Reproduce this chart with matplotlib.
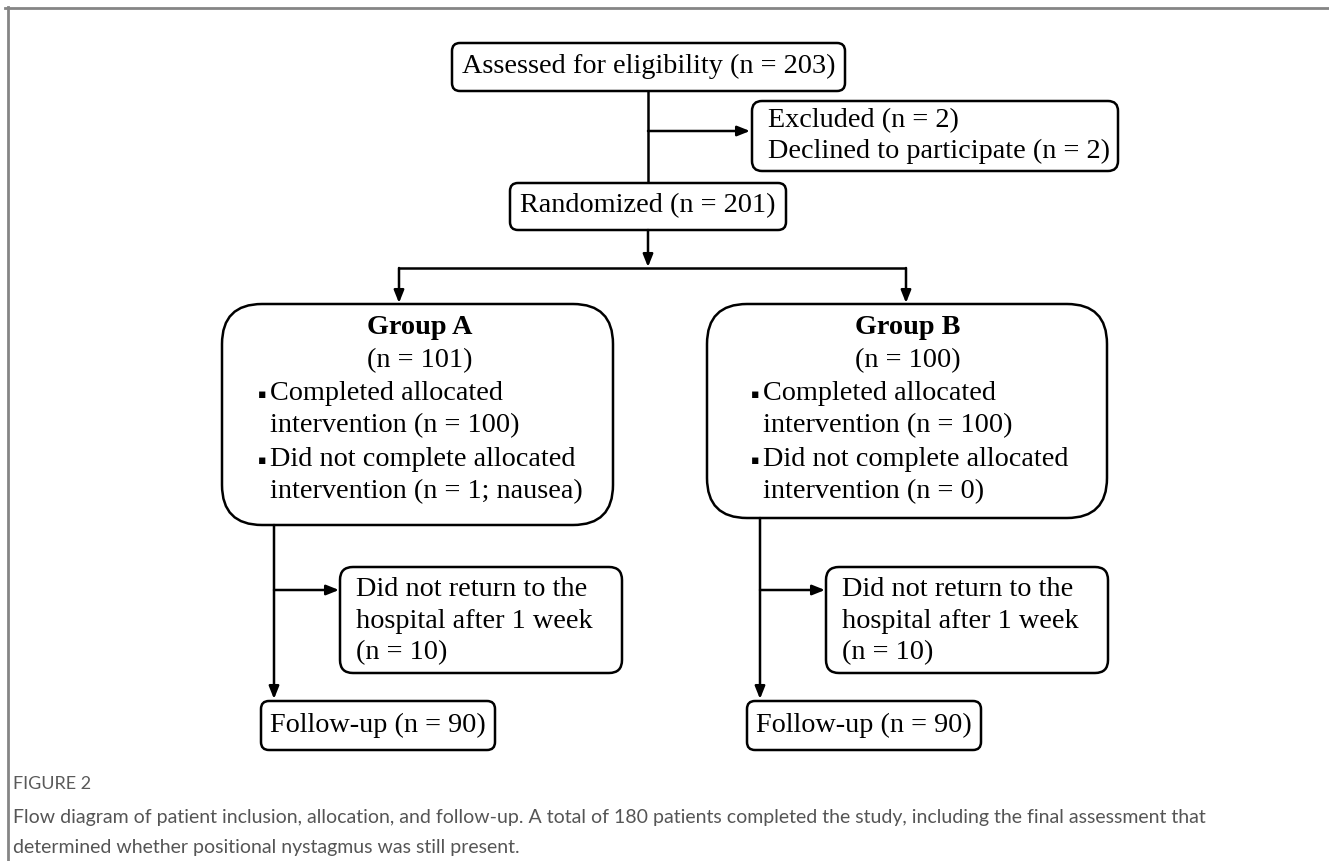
import matplotlib
matplotlib.use("Agg")
import matplotlib.pyplot as plt
from matplotlib.patches import FancyBboxPatch
from matplotlib.lines import Line2D

# ---- data (texts of the flow diagram) ----
assessed_text = "Assessed for eligibility (n = 203)"
excluded_lines = ["Excluded (n = 2)", "Declined to participate (n = 2)"]
randomized_text = "Randomized (n = 201)"
group_titles = ["Group A", "Group B"]
group_n = ["(n = 101)", "(n = 100)"]
group_items = [
    ["Completed allocated", "intervention (n = 100)",
     "Did not complete allocated", "intervention (n = 1; nausea)"],
    ["Completed allocated", "intervention (n = 100)",
     "Did not complete allocated", "intervention (n = 0)"],
]
group_bullets = [True, False, True, False]
lost_lines = [["Did not return to the", "hospital after 1 week", "(n = 10)"],
              ["Did not return to the", "hospital after 1 week", "(n = 10)"]]
followup_text = ["Follow-up (n = 90)", "Follow-up (n = 90)"]
fig_label = "FIGURE 2"
caption_lines = [
    "Flow diagram of patient inclusion, allocation, and follow-up. A total of 180 patients completed the study, including the final assessment that",
    "determined whether positional nystagmus was still present.",
]

W, H = 1329, 861
fig = plt.figure(figsize=(W / 100, H / 100), dpi=100)
ax = fig.add_axes([0, 0, 1, 1])
ax.set_xlim(0, W)
ax.set_ylim(H, 0)
ax.axis("off")

SERIF = ["Liberation Serif", "DejaVu Serif"]
FS = 20.3
LW = 1.8


def box(x0, y0, x1, y1, r):
    p = FancyBboxPatch((x0, y0), x1 - x0, y1 - y0,
                       boxstyle=f"round,pad=0,rounding_size={r}",
                       fc="white", ec="black", lw=LW, zorder=2)
    ax.add_patch(p)


def line(xs, ys):
    ax.add_line(Line2D(xs, ys, color="black", lw=LW, zorder=1,
                       solid_capstyle="butt"))


def arrow(x0, y0, x1, y1):
    ax.annotate("", xy=(x1, y1), xytext=(x0, y0),
                arrowprops=dict(arrowstyle="-|>,head_length=0.75,head_width=0.3",
                                color="black", lw=LW, shrinkA=0, shrinkB=0),
                zorder=3)


def txt(x, y, s, ha="left", weight="normal"):
    ax.text(x, y, s, ha=ha, va="center", fontsize=FS, family=SERIF,
            weight=weight, zorder=4)


# border lines (top and left)
ax.add_line(Line2D([5, W], [7.5, 7.5], color="#858585", lw=2.0))
ax.add_line(Line2D([7.5, 7.5], [7, H], color="#858585", lw=2.0))

# Assessed
box(452, 43, 845, 91, 8)
txt(648.5, 66, assessed_text, ha="center")
line([648, 648], [91, 183])
arrow(648, 131, 750, 131)
box(752, 101, 1118, 171, 10)
txt(768, 121, excluded_lines[0])
txt(768, 151, excluded_lines[1])

# Randomized
box(510, 183, 786, 230, 8)
txt(648, 206, randomized_text, ha="center")
arrow(648, 230, 648, 267)
line([399, 906], [268, 268])
arrow(399, 268, 399, 303)
arrow(906, 268, 906, 303)

# Groups
gboxes = [(222, 304, 613, 525), (707, 304, 1107, 518)]
gcenters = [420, 908]
gleft = [270, 763]
for i in range(2):
    x0, y0, x1, y1 = gboxes[i]
    box(x0, y0, x1, y1, 40)
    txt(gcenters[i], 327, group_titles[i], ha="center", weight="bold")
    txt(gcenters[i], 361, group_n[i], ha="center")
    for k, s in enumerate(group_items[i]):
        yy = 393 + 33 * k
        txt(gleft[i], yy, s)
        if group_bullets[k]:
            ax.text(gleft[i] - 4, yy + 1, "\u25aa", ha="right", va="center",
                    fontsize=9, family=["DejaVu Sans"], zorder=4)

# Follow-up branches
trunks = [274, 760]
lost_boxes = [(340, 567, 622, 673), (826, 567, 1108, 673)]
fu_boxes = [(261, 701, 495, 750), (747, 701, 981, 750)]
for i in range(2):
    tx = trunks[i]
    arrow(tx, gboxes[i][3], tx, 699)
    lx0, ly0, lx1, ly1 = lost_boxes[i]
    arrow(tx, 590, lx0 - 1, 590)
    box(lx0, ly0, lx1, ly1, 13)
    for k, s in enumerate(lost_lines[i]):
        txt(lx0 + 16, 590 + 31.5 * k, s)
    fx0, fy0, fx1, fy1 = fu_boxes[i]
    box(fx0, fy0, fx1, fy1, 8)
    txt((fx0 + fx1) / 2, 725, followup_text[i], ha="center")

# caption (sans, fitted to the measured line width)
CAP = ["Lato", "DejaVu Sans"]
fig.canvas.draw()
rend = fig.canvas.get_renderer()
t_lab = ax.text(13, 784, fig_label, ha="left", va="center", fontsize=12,
                family=CAP, color="#5a5a5a")
caps = []
for k, s in enumerate(caption_lines):
    caps.append(ax.text(13, 818 + 29 * k, s, ha="left", va="center",
                        fontsize=14, family=CAP, color="#555555"))
w1 = caps[0].get_window_extent(rend).width
fs_cap = 14 * 1200.0 / w1
for c in caps:
    c.set_fontsize(fs_cap)
wl = t_lab.get_window_extent(rend).width
t_lab.set_fontsize(12 * 78.0 / wl)

fig.savefig("out.png", dpi=100, facecolor="white")
